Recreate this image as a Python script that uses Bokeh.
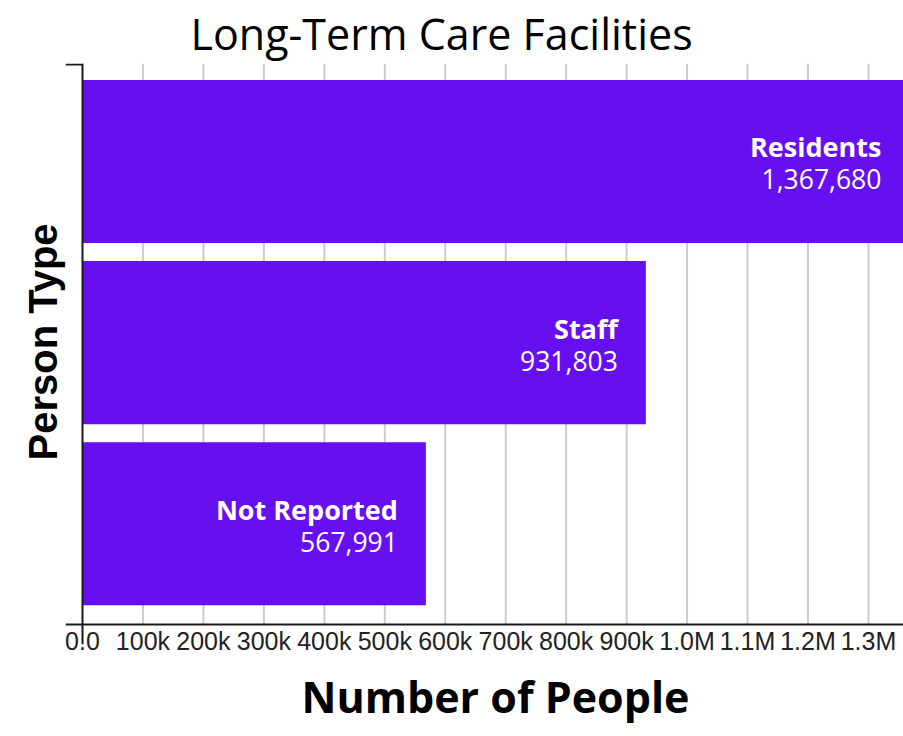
from bokeh.plotting import figure
from bokeh.models import (Range1d, FixedTicker, ColumnDataSource, LabelSet, Span, Title)
from bokeh.core.properties import value
from bokeh.embed import file_html
from bokeh.resources import INLINE

# ---- data ----
categories = ["Residents", "Staff", "Not Reported"]
counts = [1367680, 931803, 567991]
tick_values = [0, 100000, 200000, 300000, 400000, 500000, 600000,
               700000, 800000, 900000, 1000000, 1100000, 1200000, 1300000]
tick_labels = ["0.0", "100k", "200k", "300k", "400k", "500k", "600k",
               "700k", "800k", "900k", "1.0M", "1.1M", "1.2M", "1.3M"]

BAR = "#6610f2"
AXIS = "#1a1a1a"
GRID = "#cccccc"

# ---- layout constants ----
W, H = 903, 736
LEFT, RIGHT, TOP, BOTTOM = 65, 0, 61, 92
TICK_PX = 17          # outward length of the y-axis end ticks
EXT_PX = 20           # y-axis line extension below the x axis
FRAME_W = W - LEFT - RIGHT
FRAME_H = H - TOP - BOTTOM
X_MAX = 1358000

n = len(categories)
ypos = [n - 1 - i for i in range(n)]          # first category on top
y_top, y_axis = (n - 1) + 0.535, -0.556

px_x = (FRAME_W - TICK_PX) / X_MAX
dx = TICK_PX / px_x
px_y = (FRAME_H - EXT_PX - 1) / (y_top - y_axis)
y_lo = y_axis - EXT_PX / px_y
y_hi = y_top + 1 / px_y

source = ColumnDataSource(dict(
    y=ypos,
    count=counts,
    name=categories,
    num=[f"{c:,}" for c in counts],
))

p = figure(
    width=W, height=H,
    y_range=Range1d(y_lo, y_hi),
    x_range=Range1d(-dx, X_MAX),
    output_backend="svg", toolbar_location=None,
    min_border_left=LEFT, min_border_right=RIGHT,
    min_border_top=TOP, min_border_bottom=BOTTOM,
)
p.outline_line_color = None
p.xgrid.visible = False
p.ygrid.visible = False

# vertical grid lines (stop at the x axis)
grid_x = tick_values[1:]
p.segment(x0=grid_x, y0=[y_axis] * len(grid_x), x1=grid_x,
          y1=[y_hi] * len(grid_x), line_color=GRID, line_width=2)

p.hbar(y="y", right="count", left=0, height=0.9, source=source,
       fill_color=BAR, line_color=None)

# axis lines
p.add_layout(Span(location=0, dimension="height",
                  line_color=AXIS, line_width=2))
p.add_layout(Span(location=y_axis, dimension="width",
                  line_color=AXIS, line_width=2))
p.segment(x0=-dx, y0=y_top, x1=0, y1=y_top, line_color=AXIS, line_width=2)

# title
p.title.text = "Long-Term Care Facilities"
p.title.text_font = "Open Sans"
p.title.text_font_size = "43px"
p.title.text_font_style = "normal"
p.title.text_color = "#000000"
p.title.align = "left"
p.title.offset = 125
p.title.standoff = 2

# x axis (tick labels only; line drawn as span)
xa = p.xaxis[0]
xa.ticker = FixedTicker(ticks=tick_values)
xa.major_label_overrides = {v: l for v, l in zip(tick_values, tick_labels)}
xa.major_label_text_font = "Liberation Sans"
xa.major_label_text_font_size = "25px"
xa.major_label_text_color = "#222222"
xa.major_label_standoff = -18
xa.major_tick_out = 0
xa.major_tick_in = 0
xa.major_tick_line_color = None
xa.minor_tick_line_color = None
xa.axis_line_color = None

# x axis title
xt = Title(text="Number of People", align="left", offset=236,
           text_font="Open Sans", text_font_style="bold",
           text_font_size="43px", text_color="#000000", standoff=14)
p.add_layout(xt, "below")

# y axis hidden; its title placed as a left title
p.yaxis.visible = False
yt = Title(text="Person Type", align="left", offset=184,
           text_font="Liberation Sans", text_font_style="bold",
           text_font_size="40px", text_color="#000000", standoff=2)
p.add_layout(yt, "left")

# bar labels
names = LabelSet(x="count", y="y", text="name", source=source,
                 x_offset=-28, y_offset=4, text_align="right",
                 text_baseline="alphabetic", text_color="white",
                 text_font=value("Open Sans"), text_font_style="bold",
                 text_font_size=value("27px"))
nums = LabelSet(x="count", y="y", text="num", source=source,
                x_offset=-28, y_offset=-28, text_align="right",
                text_baseline="alphabetic", text_color="white",
                text_font=value("Open Sans"), text_font_style="normal",
                text_font_size=value("26.5px"))
p.add_layout(names)
p.add_layout(nums)

open("out.html", "w").write(file_html(p, INLINE))
